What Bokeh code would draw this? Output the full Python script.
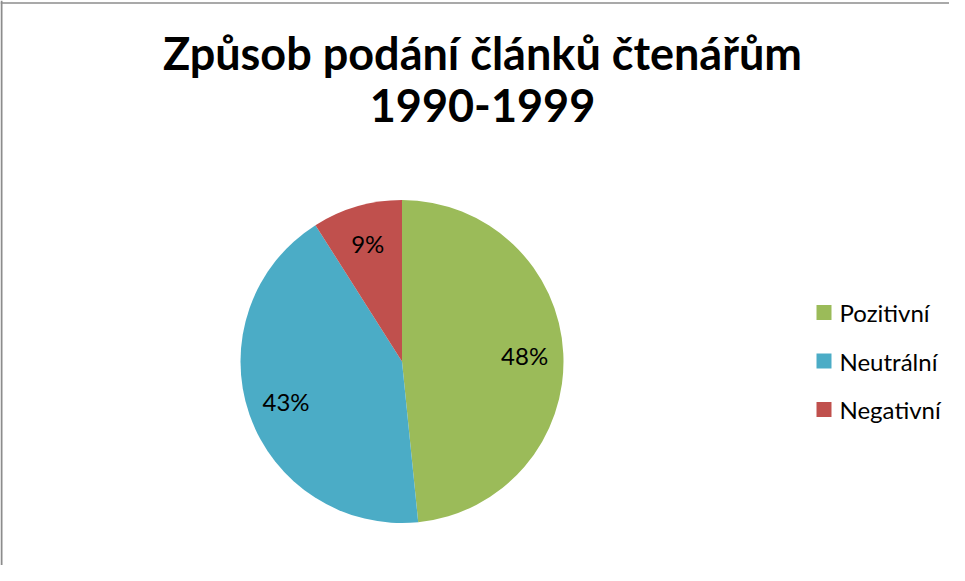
import math
from bokeh.plotting import figure
from bokeh.models import Range1d, Span, ColumnDataSource
from bokeh.core.properties import value
from bokeh.embed import file_html
from bokeh.resources import INLINE

# ---- data ----
categories = ["Pozitivní", "Neutrální", "Negativní"]
shares = [48.4, 42.6, 9.0]
colors = ["#9BBB59", "#4BACC6", "#C0504D"]
title_lines = ["Způsob podání článků čtenářům", "1990-1999"]

W, H = 949, 565
FONT = "Lato"

p = figure(width=W, height=H, output_backend="svg", toolbar_location=None,
           x_range=Range1d(0, W), y_range=Range1d(0, H), min_border=0,
           background_fill_color="white", border_fill_color="white")
p.axis.visible = False
p.grid.visible = False
p.outline_line_color = None

# frame lines (top and left of the chart area box)
p.add_layout(Span(location=1, dimension="height", line_color="#8c8c8c", line_width=2))
p.add_layout(Span(location=H - 2.5, dimension="width", line_color="#8c8c8c", line_width=1.5))

# pie geometry
cx, cy, R = 401.5, H - 361, 161.5
total = sum(shares)
starts, ends, mids = [], [], []
acc = 0.0
for s in shares:
    a0 = math.pi / 2 - 2 * math.pi * acc / total
    acc += s
    a1 = math.pi / 2 - 2 * math.pi * acc / total
    starts.append(a0)
    ends.append(a1)
    mids.append((a0 + a1) / 2)

src = ColumnDataSource(dict(x=[cx] * 3, y=[cy] * 3, start=starts, end=ends, color=colors))
p.wedge(x="x", y="y", radius=R, start_angle="start", end_angle="end",
        direction="clock", fill_color="color", line_color=None, source=src)

# percentage labels
lr = 0.76 * R
lab = ColumnDataSource(dict(
    x=[cx + lr * math.cos(m) for m in mids],
    y=[cy + lr * math.sin(m) for m in mids],
    t=[f"{round(100 * s / total)}%" for s in shares]))
p.text(x="x", y="y", text="t", source=lab, text_font=value(FONT), text_font_size="24px",
       text_align="center", text_baseline="middle", text_color="black")

# title
p.text(x=[482, 482], y=[H - 52, H - 105], text=title_lines, text_font=value(FONT),
       text_font_size="45px", text_font_style="bold", text_align="center",
       text_baseline="alphabetic", text_color="black")

# legend
ly = [H - 312, H - 360.5, H - 409]
p.rect(x=[823.5] * 3, y=ly, width=15, height=15, fill_color=colors, line_color=None)
p.text(x=[839] * 3, y=ly, text=categories, text_font=value(FONT), text_font_size="24px",
       text_align="left", text_baseline="middle", text_color="black")

open("out.html", "w").write(file_html(p, INLINE))
